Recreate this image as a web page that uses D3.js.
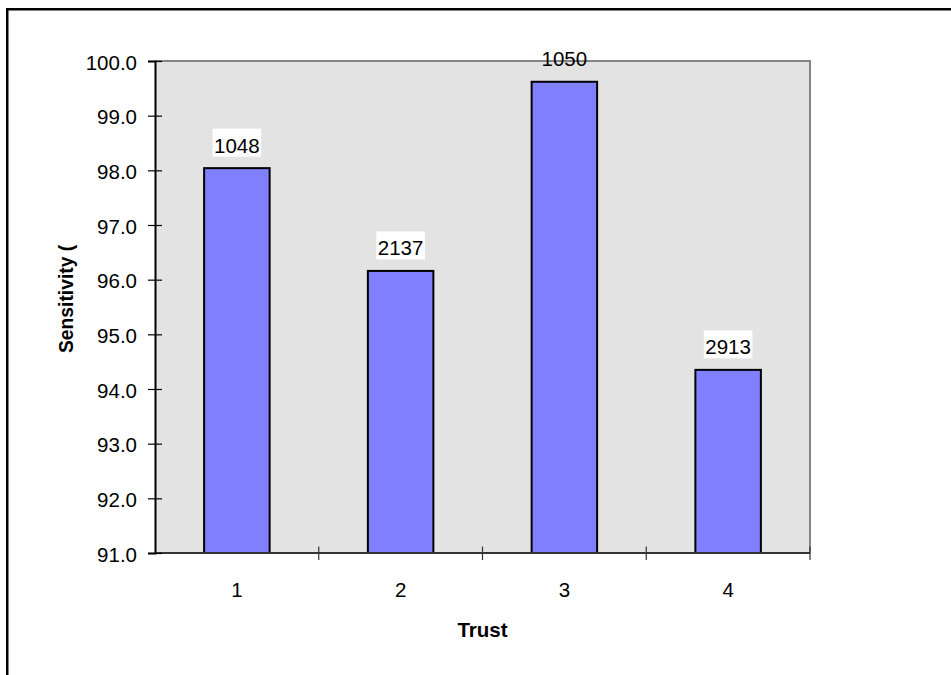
<!DOCTYPE html>
<html>
<head>
<meta charset="utf-8">
<script src="https://cdn.jsdelivr.net/npm/d3@7"></script>
<style>
  html, body { margin: 0; padding: 0; background: #fff; }
  svg { display: block; font-family: "Liberation Sans", Arial, sans-serif; }
</style>
</head>
<body>
<svg id="chart" width="951" height="675"></svg>
<script>
const categories = ["1", "2", "3", "4"];
const values = [98.04, 96.16, 99.62, 94.35];
const dataLabels = ["1048", "2137", "1050", "2913"];
const yTicks = [91, 92, 93, 94, 95, 96, 97, 98, 99, 100];
const xTitle = "Trust";
const yTitle = "Sensitivity (";

const svg = d3.select("#chart");
const W = 951, H = 675;
const plot = { left: 155, top: 61, right: 810, bottom: 553 };

// outer frame (left and top visible, runs off right/bottom)
svg.append("rect")
  .attr("x", 7.25).attr("y", 9.25)
  .attr("width", W + 10).attr("height", H + 10)
  .attr("fill", "none").attr("stroke", "#000").attr("stroke-width", 2.5);

const x = d3.scaleBand().domain(categories).range([plot.left, plot.right]).paddingInner(0).paddingOuter(0);
const y = d3.scaleLinear().domain([91, 100]).range([plot.bottom, plot.top]);

// plot background
svg.append("rect")
  .attr("x", plot.left).attr("y", plot.top)
  .attr("width", plot.right - plot.left).attr("height", plot.bottom - plot.top)
  .attr("fill", "#e3e3e3");

// top and right border (gray)
svg.append("path")
  .attr("d", `M${plot.left},${plot.top}H${plot.right}V${plot.bottom}`)
  .attr("fill", "none").attr("stroke", "#858585").attr("stroke-width", 2);

const fs = 20.5;
const barW = x.bandwidth() * 0.4;

// bars
svg.append("g").selectAll("rect").data(values).join("rect")
  .attr("x", (d, i) => x(categories[i]) + (x.bandwidth() - barW) / 2)
  .attr("y", d => y(d))
  .attr("width", barW)
  .attr("height", d => y(91) - y(d))
  .attr("fill", "#8080ff").attr("stroke", "#000").attr("stroke-width", 2);

// x axis
const xAxisG = svg.append("g").attr("transform", `translate(0,${plot.bottom})`);
xAxisG.append("line").attr("x1", plot.left).attr("x2", plot.right)
  .attr("stroke", "#333").attr("stroke-width", 2);
const boundaries = categories.map(c => x(c) + x.bandwidth());
xAxisG.selectAll("line.tk").data(boundaries).join("line").attr("class", "tk")
  .attr("x1", d => d).attr("x2", d => d).attr("y1", -6.5).attr("y2", 7)
  .attr("stroke", "#333").attr("stroke-width", 1.2);
xAxisG.selectAll("text").data(categories).join("text")
  .attr("x", d => x(d) + x.bandwidth() / 2).attr("y", 44)
  .attr("text-anchor", "middle").attr("font-size", fs).attr("fill", "#000")
  .text(d => d);

// y axis
const yAxis = d3.axisLeft(y).tickValues(yTicks).tickFormat(d3.format(".1f")).tickSize(7).tickPadding(11);
const yG = svg.append("g").attr("transform", `translate(${plot.left},0)`).call(yAxis);
yG.select(".domain").attr("stroke", "#000").attr("stroke-width", 2);
yG.selectAll(".tick line").attr("x1", 7).attr("x2", -7).attr("stroke", "#000").attr("stroke-width", 1.2);
yG.selectAll(".tick text").attr("font-size", fs).attr("fill", "#000")
  .attr("font-family", "'Liberation Sans', Arial, sans-serif").attr("dy", "0.4em");

// data labels
const lg = svg.append("g");
values.forEach((v, i) => {
  const cx = x(categories[i]) + x.bandwidth() / 2;
  const base = y(v) - 15.5;
  const t = lg.append("text").attr("x", cx).attr("y", base)
    .attr("text-anchor", "middle").attr("font-size", fs).attr("fill", "#000")
    .text(dataLabels[i]);
  const bb = t.node().getBBox();
  const boxTop = base - 24;
  if (boxTop >= plot.top) {
    lg.insert("rect", () => t.node())
      .attr("x", bb.x - 1.5).attr("y", boxTop)
      .attr("width", bb.width + 3).attr("height", 28)
      .attr("fill", "#fff");
  }
});

// axis titles
svg.append("text")
  .attr("x", (plot.left + plot.right) / 2).attr("y", 637)
  .attr("text-anchor", "middle").attr("font-size", fs).attr("font-weight", "bold")
  .text(xTitle);
svg.append("text")
  .attr("transform", `translate(73,353) rotate(-90)`)
  .attr("text-anchor", "start").attr("font-size", 19.3).attr("font-weight", "bold")
  .text(yTitle);
</script>
</body>
</html>
